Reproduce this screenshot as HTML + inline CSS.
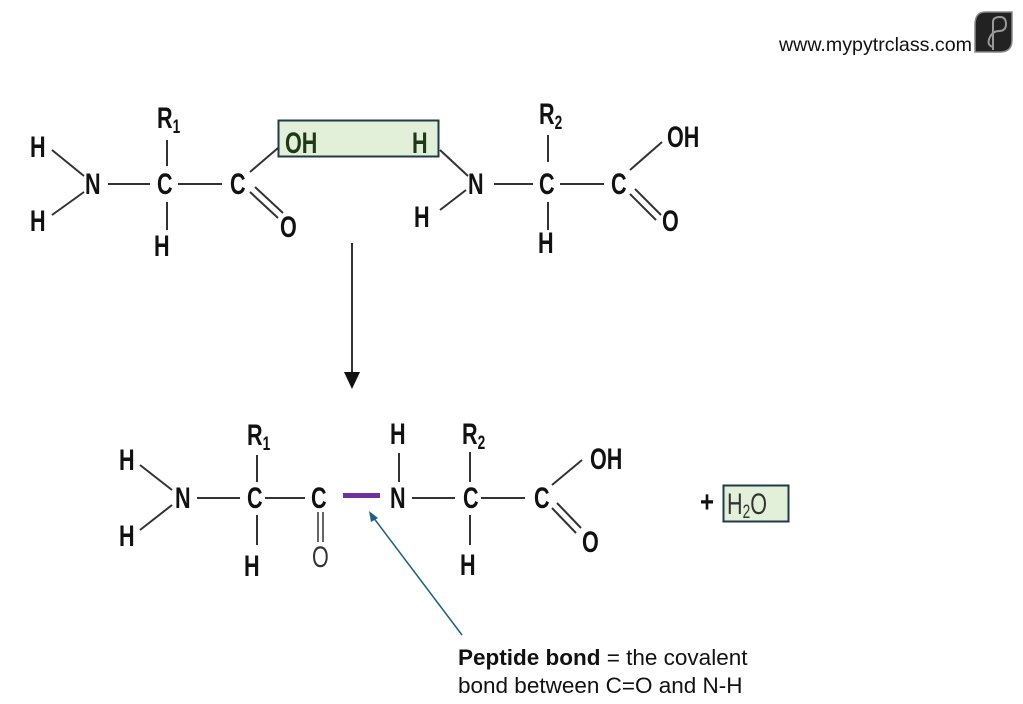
<!DOCTYPE html>
<html><head><meta charset="utf-8"><style>
html,body{margin:0;padding:0;background:#fff;}
svg{display:block;}
.m text{font-family:"Liberation Sans",sans-serif;font-weight:bold;fill:#111;}
</style></head><body>
<svg width="1023" height="704" viewBox="0 0 1023 704" xmlns="http://www.w3.org/2000/svg">
<text x="779" y="51" font-family="Liberation Sans, sans-serif" font-size="19.5" fill="#111" textLength="193" lengthAdjust="spacingAndGlyphs">www.mypytrclass.com</text>
<path d="M985 12 H1012 V40 Q1012 52 1000 52 H975 V25 Q975 12 985 12Z" fill="#222" stroke="#888" stroke-width="1.5"/>
<path d="M993 50 V22 Q993 17 1000 17 Q1006 17 1006 24 Q1006 31 999 31 Q993 31 990 37 Q986 45 993 47" fill="none" stroke="#999" stroke-width="2"/>

<g stroke="#333" stroke-width="2" fill="none">
<line x1="52" y1="150" x2="84" y2="176"/>
<line x1="52" y1="215" x2="84" y2="192"/>
<line x1="108" y1="184" x2="150" y2="184"/>
<line x1="178" y1="184" x2="222" y2="184"/>
<line x1="167" y1="140" x2="167" y2="166"/>
<line x1="167" y1="202" x2="167" y2="230"/>
<line x1="250" y1="172" x2="278" y2="148"/>
<line x1="250" y1="192" x2="278" y2="218"/>
<line x1="255" y1="187" x2="283" y2="213"/>
<line x1="440" y1="150" x2="468" y2="176"/>
<line x1="440" y1="210" x2="466" y2="190"/>
<line x1="494" y1="184" x2="533" y2="184"/>
<line x1="560" y1="184" x2="604" y2="184"/>
<line x1="548" y1="135" x2="548" y2="162"/>
<line x1="548" y1="202" x2="548" y2="230"/>
<line x1="630" y1="170" x2="662" y2="142"/>
<line x1="630" y1="194" x2="656" y2="220"/>
<line x1="635" y1="189" x2="661" y2="215"/>
<line x1="352" y1="243" x2="352" y2="375"/>
<line x1="140" y1="465" x2="172" y2="490"/>
<line x1="140" y1="530" x2="172" y2="505"/>
<line x1="197" y1="498" x2="240" y2="498"/>
<line x1="265" y1="498" x2="305" y2="498"/>
<line x1="257" y1="455" x2="257" y2="482"/>
<line x1="257" y1="515" x2="257" y2="545"/>
<line x1="318" y1="512" x2="318" y2="542" stroke-width="1.5"/>
<line x1="323" y1="512" x2="323" y2="542" stroke-width="1.5"/>
<line x1="399" y1="453" x2="399" y2="482"/>
<line x1="412" y1="498" x2="455" y2="498"/>
<line x1="481" y1="498" x2="525" y2="498"/>
<line x1="470" y1="452" x2="470" y2="482"/>
<line x1="470" y1="515" x2="470" y2="545"/>
<line x1="552" y1="485" x2="582" y2="460"/>
<line x1="552" y1="508" x2="576" y2="533"/>
<line x1="557" y1="503" x2="581" y2="528"/>
</g>
<polygon points="344,372 360,372 352,389" fill="#111"/>
<rect x="343" y="493" width="37" height="5" fill="#7030a0"/>

<rect x="278.5" y="120.5" width="160" height="36" fill="#e2f0d9" stroke="#1f3a4a" stroke-width="2"/>
<rect x="723.5" y="485.5" width="65" height="36" fill="#e2f0d9" stroke="#1f3a4a" stroke-width="2"/>

<g class="m" font-size="30">
<text transform="translate(30 157) scale(.72 1)">H</text>
<text transform="translate(30 231) scale(.72 1)">H</text>
<text transform="translate(85 194) scale(.72 1)">N</text>
<text transform="translate(157 194) scale(.72 1)">C</text>
<text transform="translate(230 194) scale(.72 1)">C</text>
<text transform="translate(280 237) scale(.72 1)">O</text>
<text transform="translate(157 128) scale(.72 1)">R<tspan font-size="19" dy="5">1</tspan></text>
<text transform="translate(154 256) scale(.72 1)">H</text>
<text transform="translate(285 153) scale(.72 1)" style="fill:#1e3a14">OH</text>
<text transform="translate(412 153) scale(.72 1)" style="fill:#1e3a14">H</text>
<text transform="translate(468 194) scale(.72 1)">N</text>
<text transform="translate(414 227) scale(.72 1)">H</text>
<text transform="translate(539 194) scale(.72 1)">C</text>
<text transform="translate(539 124) scale(.72 1)">R<tspan font-size="19" dy="5">2</tspan></text>
<text transform="translate(538 253) scale(.72 1)">H</text>
<text transform="translate(611 194) scale(.72 1)">C</text>
<text transform="translate(667 147) scale(.72 1)">OH</text>
<text transform="translate(662 231) scale(.72 1)">O</text>

<text transform="translate(119 470) scale(.72 1)">H</text>
<text transform="translate(119 546) scale(.72 1)">H</text>
<text transform="translate(175 508) scale(.72 1)">N</text>
<text transform="translate(247 508) scale(.72 1)">C</text>
<text transform="translate(247 445) scale(.72 1)">R<tspan font-size="19" dy="5">1</tspan></text>
<text transform="translate(244 576) scale(.72 1)">H</text>
<text transform="translate(311 508) scale(.72 1)">C</text>
<text transform="translate(312 567) scale(.72 1)" style="font-weight:normal;fill:#333">O</text>
<text transform="translate(390 444) scale(.72 1)">H</text>
<text transform="translate(390 508) scale(.72 1)">N</text>
<text transform="translate(462 444) scale(.72 1)">R<tspan font-size="19" dy="5">2</tspan></text>
<text transform="translate(460 575) scale(.72 1)">H</text>
<text transform="translate(463 508) scale(.72 1)">C</text>
<text transform="translate(534 508) scale(.72 1)">C</text>
<text transform="translate(590 469) scale(.72 1)">OH</text>
<text transform="translate(582 552) scale(.72 1)">O</text>
<text transform="translate(700 512) scale(.8 1)">+</text>
<text transform="translate(727 514) scale(.72 1)" style="font-weight:normal;fill:#333">H<tspan font-size="19" dy="4">2</tspan><tspan dy="-4">O</tspan></text>
</g>

<line x1="462" y1="635" x2="373" y2="517" stroke="#1f5f80" stroke-width="1.5"/>
<polygon points="369,511 378,518 371,522" fill="#1f5f80"/>
<text x="458" y="665" font-family="Liberation Sans, sans-serif" font-size="22.5" fill="#111"><tspan font-weight="bold">Peptide bond</tspan> = the covalent</text>
<text x="458" y="693" font-family="Liberation Sans, sans-serif" font-size="22.5" fill="#111">bond between C=O and N-H</text>
</svg>
</body></html>
